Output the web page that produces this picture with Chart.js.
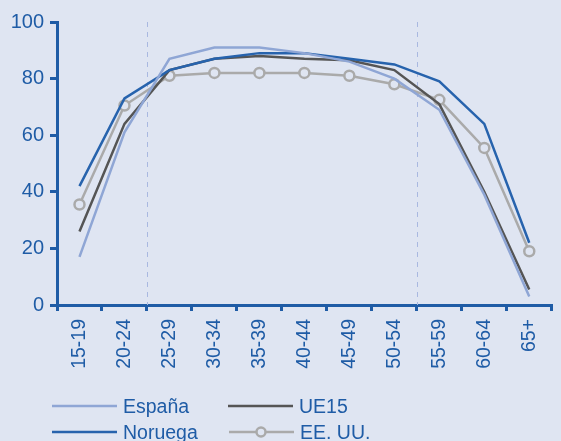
<!DOCTYPE html>
<html>
<head>
<meta charset="utf-8">
<script src="https://cdn.jsdelivr.net/npm/chart.js@4/dist/chart.umd.min.js"></script>
<style>
  html, body { margin: 0; padding: 0; background: #dfe5f2; }
  #wrap { position: relative; width: 561px; height: 441px; }
</style>
</head>
<body>
<div id="wrap"><canvas id="c" width="561" height="441"></canvas></div>
<script>
const categories = ["15-19","20-24","25-29","30-34","35-39","40-44","45-49","50-54","55-59","60-64","65+"];
const espana  = [17, 61, 87, 91, 91, 89, 86, 80, 69, 39, 3];
const noruega = [42, 73, 83, 87, 89, 89, 87, 85, 79, 64, 22];
const ue15    = [26, 64, 83, 87, 88, 87, 86.5, 83, 71, 40, 5.5];
const eeuu    = [35.5, 70.5, 81, 82, 82, 82, 81, 78, 72.5, 55.5, 19];
const yTicks  = [0, 20, 40, 60, 80, 100];
const seriesNames = ["España", "Noruega", "UE15", "EE. UU."];

const AXIS = '#1f5ca6';
const BG = '#dfe5f2';
const FONT = "'Liberation Sans', Arial, sans-serif";

const colors = { esp: '#8fa6d5', nor: '#2763ad', ue: '#555555', us: '#aaaaaa' };

const dashedLines = {
  id: 'dashedLines',
  beforeDatasetsDraw(chart) {
    const {ctx, chartArea, scales} = chart;
    const x = scales.x;
    ctx.save();
    ctx.strokeStyle = '#a9b8e0';
    ctx.lineWidth = 1;
    ctx.setLineDash([5, 5]);
    [1.5, 7.5].forEach(v => {
      const px = Math.round(x.getPixelForValue(v)) + 0.5;
      ctx.beginPath();
      ctx.moveTo(px, chartArea.top);
      ctx.lineTo(px, chartArea.bottom);
      ctx.stroke();
    });
    ctx.restore();
  }
};

const legendPlugin = {
  id: 'customLegend',
  afterDraw(chart) {
    const ctx = chart.ctx;
    const items = [
      {name: seriesNames[0], color: colors.esp, x: 52, y: 406, lw: 2.5, pt: false},
      {name: seriesNames[2], color: colors.ue, x: 228, y: 406, lw: 2.5, pt: false},
      {name: seriesNames[1], color: colors.nor, x: 52, y: 432, lw: 2.5, pt: false},
      {name: seriesNames[3], color: colors.us, x: 229, y: 432, lw: 2.5, pt: true}
    ];
    ctx.save();
    items.forEach(it => {
      ctx.strokeStyle = it.color;
      ctx.lineWidth = it.lw;
      ctx.beginPath();
      ctx.moveTo(it.x, it.y);
      ctx.lineTo(it.x + 65, it.y);
      ctx.stroke();
      if (it.pt) {
        ctx.beginPath();
        ctx.fillStyle = BG;
        ctx.arc(it.x + 32, it.y, 4.5, 0, Math.PI * 2);
        ctx.fill();
        ctx.stroke();
      }
      ctx.fillStyle = AXIS;
      ctx.font = "19.5px " + FONT;
      ctx.textBaseline = 'middle';
      ctx.textAlign = 'left';
      ctx.fillText(it.name, it.x + 71, it.y + 2);
    });
    ctx.restore();
  }
};

new Chart(document.getElementById('c'), {
  type: 'line',
  data: {
    labels: categories,
    datasets: [
      {label: seriesNames[0], data: espana, borderColor: colors.esp, borderWidth: 2.5, pointRadius: 0, tension: 0},
      {label: seriesNames[1], data: noruega, borderColor: colors.nor, borderWidth: 2.5, pointRadius: 0, tension: 0},
      {label: seriesNames[2], data: ue15, borderColor: colors.ue, borderWidth: 2.5, pointRadius: 0, tension: 0},
      {label: seriesNames[3], data: eeuu, borderColor: colors.us, borderWidth: 2.5, pointRadius: 5,
       pointBorderWidth: 2.5, pointBackgroundColor: BG, pointBorderColor: colors.us, tension: 0}
    ]
  },
  options: {
    responsive: false,
    animation: false,
    devicePixelRatio: 1,
    layout: { padding: { top: 22, left: 0, right: 0, bottom: 0 } },
    plugins: { legend: { display: false }, tooltip: { enabled: false } },
    scales: {
      x: {
        offset: true,
        afterFit(s) { s.height = 136; },
        grid: { display: true, drawOnChartArea: false, drawTicks: true, tickLength: 6, color: AXIS, lineWidth: 3, offset: true },
        border: { display: true, color: AXIS, width: 3 },
        ticks: { color: AXIS, font: { size: 19.5, family: FONT }, minRotation: 90, maxRotation: 90, padding: 8, autoSkip: false }
      },
      y: {
        min: 0, max: 100,
        afterFit(s) { s.width = 57; },
        afterBuildTicks(s) { s.ticks = yTicks.map(v => ({value: v})); },
        grid: { display: true, drawOnChartArea: false, drawTicks: true, tickLength: 7, color: AXIS, lineWidth: 3 },
        border: { display: true, color: AXIS, width: 3 },
        ticks: { color: AXIS, font: { size: 20, family: FONT }, padding: 6 }
      }
    }
  },
  plugins: [dashedLines, legendPlugin]
});
</script>
</body>
</html>
